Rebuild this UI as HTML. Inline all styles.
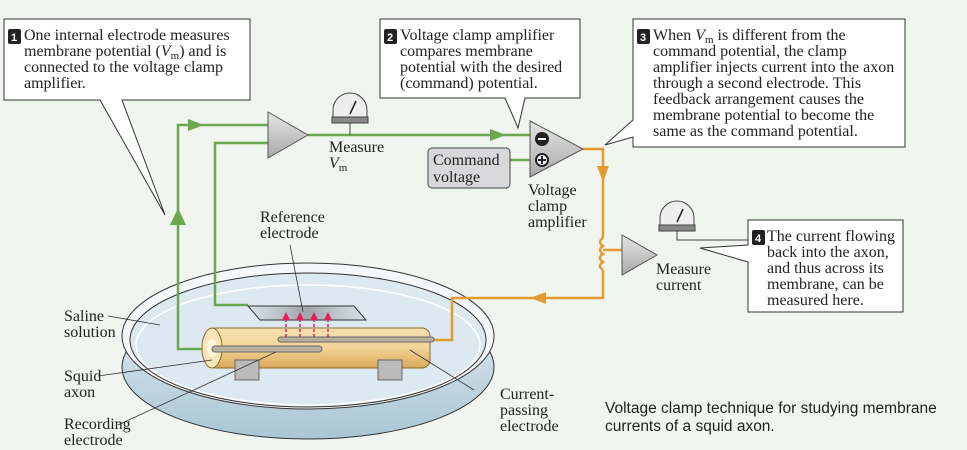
<!DOCTYPE html>
<html><head><meta charset="utf-8"><style>
html,body{margin:0;padding:0;background:#f1f5ef;}
svg{display:block;}
text{font-family:"Liberation Serif",serif;font-size:16px;fill:#222;}
.s{font-family:"Liberation Sans",sans-serif;font-size:15.5px;}
.n{font-family:"Liberation Sans",sans-serif;font-size:11px;font-weight:bold;fill:#fff;}
</style></head><body>
<svg width="967" height="450" viewBox="0 0 967 450">
<defs>
<linearGradient id="dish" x1="0" y1="0" x2="0" y2="1"><stop offset="0" stop-color="#e6eef3"/><stop offset="1" stop-color="#a9c6d5"/></linearGradient>
<linearGradient id="ax" x1="0" y1="0" x2="0" y2="1"><stop offset="0" stop-color="#f7e2b2"/><stop offset="0.5" stop-color="#f3d496"/><stop offset="1" stop-color="#d9a85a"/></linearGradient>
<linearGradient id="tri" x1="0" y1="0" x2="0" y2="1"><stop offset="0" stop-color="#e6e6e6"/><stop offset="1" stop-color="#a8a8a8"/></linearGradient>
<linearGradient id="plate" x1="0" y1="0" x2="1" y2="0"><stop offset="0" stop-color="#d8e4ea"/><stop offset="0.5" stop-color="#a0a6aa"/><stop offset="1" stop-color="#d8e4ea"/></linearGradient>
</defs>
<!-- dish -->
<ellipse cx="308" cy="367" rx="186" ry="72" fill="url(#dish)" stroke="#333" stroke-width="1"/>
<ellipse cx="308" cy="336" rx="186" ry="73" fill="#f4f8fa" stroke="#333" stroke-width="1"/>
<ellipse cx="308" cy="340" rx="178" ry="67" fill="#dde9f0" stroke="#333" stroke-width="1"/>
<ellipse cx="308" cy="345" rx="172" ry="60" fill="none" stroke="#fff" stroke-width="1.5"/>
<!-- green wires -->
<g stroke="#6aa84f" stroke-width="2.5" fill="none">
<path d="M212,349 H178 V125 H268"/>
<path d="M248,305 H215 V143 H268"/>
<path d="M308,135 H532"/>
<path d="M510,160 H532"/>
</g>
<path d="M170,225 L178,208 L186,225Z" fill="#6aa84f"/>
<path d="M188,119 L204,125 L188,131Z" fill="#6aa84f"/>
<path d="M490,129 L506,135 L490,141Z" fill="#6aa84f"/>
<!-- orange wires -->
<g stroke="#e59a2e" stroke-width="2.5" fill="none">
<path d="M583,149 H603 V238"/>
<path d="M603,270 V298 H452 V340 H432"/>
<path d="M603,238 q-6,4 0,8 q-6,4 0,8 q-6,4 0,8 q-6,4 0,8"/>
<path d="M603,250 H622"/>
</g>
<path d="M597,166 L603,182 L609,166Z" fill="#e59a2e"/>
<path d="M546,292 L530,298 L546,304Z" fill="#e59a2e"/>
<!-- reference plate -->
<polygon points="248,306 354,306 366,320 260,320" fill="url(#plate)" stroke="#333"/>
<!-- axon -->
<rect x="208" y="328" width="222" height="40" rx="8" fill="url(#ax)" stroke="#8a6a30"/>
<ellipse cx="212" cy="348" rx="10" ry="20" fill="#f7e4b8" stroke="#8a6a30"/>
<ellipse cx="212" cy="348" rx="5" ry="9" fill="#fff4dc"/>
<rect x="212" y="346" width="110" height="6" rx="3" fill="#b7b29f" stroke="#666"/>
<rect x="278" y="337" width="156" height="5" rx="2.5" fill="#b7b29f" stroke="#666"/>
<rect x="235" y="360" width="24" height="20" fill="#bbb" stroke="#666"/>
<rect x="378" y="360" width="24" height="20" fill="#bbb" stroke="#666"/>
<g stroke="#e0205a" stroke-width="1.5" stroke-dasharray="3,2" fill="#e0205a">
<path d="M286,337 V318 M300,337 V318 M314,337 V318 M328,337 V318"/>
</g>
<g fill="#e0205a"><path d="M282,320 L286,312 L290,320Z M296,320 L300,312 L304,320Z M310,320 L314,312 L318,320Z M324,320 L328,312 L332,320Z"/></g>
<!-- leader lines -->
<g stroke="#333" stroke-width="0.8" fill="none">
<path d="M108,316 L160,325"/><path d="M98,376 L212,360"/><path d="M118,425 L276,352"/>
<path d="M474,390 L410,350"/><path d="M290,245 L303,312"/>
</g>
<!-- amps -->
<polygon points="268,112 308,135 268,158" fill="url(#tri)" stroke="#555"/>
<polygon points="530,121 583,149 530,177" fill="url(#tri)" stroke="#555"/>
<circle cx="542" cy="139" r="7" fill="#222"/><rect x="538" y="138" width="8" height="2" fill="#fff"/>
<circle cx="542" cy="160" r="6" fill="#fff" stroke="#222" stroke-width="2"/><path d="M538,160 H546 M542,156 V164" stroke="#222" stroke-width="2"/>
<polygon points="622,235 657,255 622,275" fill="url(#tri)" stroke="#555"/>
<!-- meters -->
<g>
<path d="M333,123 V110 A17,17 0 0 1 367,110 V123Z" fill="#eee" stroke="#444"/>
<rect x="332" y="117" width="36" height="6" fill="#888" stroke="#444"/>
<path d="M350,123 V135" stroke="#444"/><path d="M350,114 L356,101" stroke="#222" stroke-width="1.5"/>
<path d="M660,230 V218 A17,17 0 0 1 694,218 V230Z" fill="#eee" stroke="#444"/>
<rect x="659" y="225" width="36" height="6" fill="#888" stroke="#444"/>
<path d="M677,231 V240 H748" stroke="#444" fill="none"/><path d="M677,222 L683,209" stroke="#222" stroke-width="1.5"/>
</g>
<!-- command box -->
<rect x="428" y="148" width="82" height="40" rx="4" fill="#d8d8da" stroke="#444"/>
<text x="433" y="165">Command</text><text x="433" y="182">voltage</text>
<!-- callouts -->
<g fill="#fff" stroke="#333">
<path d="M4,19 H250 V100 H122 L165,215 L100,100 H4Z"/>
<path d="M380,19 H580 V98 H525 L518,128 L505,98 H380Z"/>
<path d="M633,19 H905 V147 H633 V137 L605,145 L633,120 Z"/>
<path d="M748,220 H903 V312 H748 V262 L700,248 L748,245Z"/>
</g>
<g fill="#222"><rect x="8" y="29" width="13" height="15" rx="2"/><rect x="384" y="29" width="13" height="15" rx="2"/><rect x="637" y="29" width="13" height="15" rx="2"/><rect x="752" y="230" width="13" height="15" rx="2"/></g>
<text class="n" x="11" y="41">1</text><text class="n" x="387" y="41">2</text><text class="n" x="640" y="41">3</text><text class="n" x="755" y="242">4</text>
<text x="24" y="40">One internal electrode measures</text>
<text x="24" y="56">membrane potential (<tspan font-style="italic">V</tspan><tspan font-size="11" dy="3">m</tspan><tspan dy="-3">) and is</tspan></text>
<text x="24" y="72">connected to the voltage clamp</text>
<text x="24" y="88">amplifier.</text>
<text x="400" y="40">Voltage clamp amplifier</text>
<text x="400" y="56">compares membrane</text>
<text x="400" y="72">potential with the desired</text>
<text x="400" y="88">(command) potential.</text>
<text x="653" y="40">When <tspan font-style="italic">V</tspan><tspan font-size="11" dy="3">m</tspan><tspan dy="-3"> is different from the</tspan></text>
<text x="653" y="56">command potential, the clamp</text>
<text x="653" y="72">amplifier injects current into the axon</text>
<text x="653" y="88">through a second electrode. This</text>
<text x="653" y="104">feedback arrangement causes the</text>
<text x="653" y="120">membrane potential to become the</text>
<text x="653" y="136">same as the command potential.</text>
<text x="767" y="241">The current flowing</text>
<text x="767" y="257">back into the axon,</text>
<text x="767" y="273">and thus across its</text>
<text x="767" y="289">membrane, can be</text>
<text x="767" y="305">measured here.</text>
<!-- labels -->
<text x="329" y="152">Measure</text>
<text x="329" y="168"><tspan font-style="italic">V</tspan><tspan font-size="11" dy="3">m</tspan></text>
<text x="528" y="195">Voltage</text><text x="528" y="211">clamp</text><text x="528" y="227">amplifier</text>
<text x="656" y="274">Measure</text><text x="656" y="290">current</text>
<text x="260" y="222">Reference</text><text x="260" y="238">electrode</text>
<text x="64" y="321">Saline</text><text x="64" y="337">solution</text>
<text x="64" y="381">Squid</text><text x="64" y="397">axon</text>
<text x="64" y="429">Recording</text><text x="64" y="445">electrode</text>
<text x="500" y="399">Current-</text><text x="500" y="415">passing</text><text x="500" y="431">electrode</text>
<text class="s" x="605" y="413">Voltage clamp technique for studying membrane</text>
<text class="s" x="605" y="431">currents of a squid axon.</text>
</svg>
</body></html>
